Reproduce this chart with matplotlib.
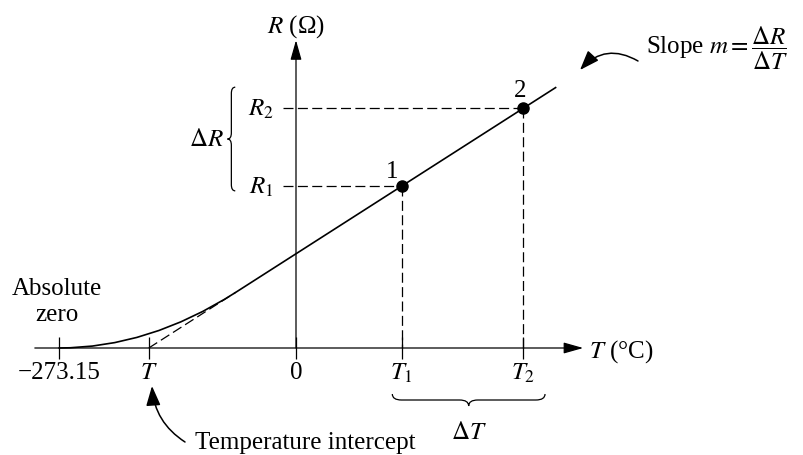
import numpy as np
import matplotlib.pyplot as plt
from matplotlib.path import Path
from matplotlib.patches import PathPatch

plt.rcParams['font.family'] = ['Liberation Serif', 'DejaVu Serif']
plt.rcParams['mathtext.fontset'] = 'stix'

# temperatures in deg C, resistances in ohm
T_ABS = -273.15
T_pts = [122, 262]        # T1, T2
R_pts = [100, 148]        # R1, R2
T_TANGENT = -70           # real curve joins the straight line here
T_END = 300               # end of the straight line
T_AXIS = (-301, 331)      # extent of the temperature axis
R_AXIS_TOP = 190          # tip of the resistance axis

tick_labels = ['\u2212273.15', '$T$', '0', '$T_1$', '$T_2$']
point_labels = ['1', '2']
R_labels = ['$R_1$', '$R_2$']

W, H = 804, 456
FS = 18
LW = 0.9

# straight part through the two measured points
slope = (R_pts[1] - R_pts[0]) / (T_pts[1] - T_pts[0])
T_int = T_pts[0] - R_pts[0] / slope
R_tan = slope * (T_TANGENT - T_int)
T_line = np.array([T_TANGENT, T_END])
R_line = slope * (T_line - T_int)

fig = plt.figure(figsize=(W / 100, H / 100), dpi=100)
ax = fig.add_axes([0, 0, 1, 1])
ax.set_xlim(-296 / 0.8677, (W - 296) / 0.8677)
ax.set_ylim((349 - H) / 1.62, 349 / 1.62)
ax.axis('off')

axis_arrow = dict(arrowstyle='-|>,head_length=0.6,head_width=0.17',
                  mutation_scale=20, lw=LW, color='k', shrinkA=0, shrinkB=0)
ax.annotate('', xy=(T_AXIS[1], 0), xytext=(T_AXIS[0], 0), arrowprops=axis_arrow)
ax.annotate('', xy=(0, R_AXIS_TOP), xytext=(0, 0), arrowprops=axis_arrow)

# low-temperature curve: quadratic bezier tangent to the axis and the line
curve = Path([(T_ABS, 0), (T_int, 0), (T_TANGENT, R_tan)],
             [Path.MOVETO, Path.CURVE3, Path.CURVE3])
ax.add_patch(PathPatch(curve, fill=False, lw=1.2, color='k', capstyle='round'))
ax.plot(T_line, R_line, color='k', lw=1.2, solid_capstyle='butt')
dash = (0, (8, 3.5))
ax.plot([T_int, T_TANGENT], [0, R_tan], color='k', lw=LW, ls=dash)

# guides to the axes
for T, R in zip(T_pts, R_pts):
    ax.plot([-15, T], [R, R], color='k', lw=LW, ls=dash)
    ax.plot([T, T], [R, 0], color='k', lw=LW, ls=dash)
ax.plot(T_pts, R_pts, 'o', ms=8, color='k')

for T, R, s, off in zip(T_pts, R_pts, point_labels, [(-10, 15), (-3, 18)]):
    ax.annotate(s, (T, R), xytext=off, textcoords='offset pixels',
                ha='center', va='center', fontsize=FS)
for R, s in zip(R_pts, R_labels):
    ax.annotate(s, (0, R), xytext=(-35, 0), textcoords='offset pixels',
                ha='center', va='center', fontsize=FS)

tick_T = [T_ABS, T_int, 0, T_pts[0], T_pts[1]]
ax.plot(tick_T, np.zeros(len(tick_T)), '|', ms=16, mew=LW, color='k')
for T, s in zip(tick_T, tick_labels):
    ax.annotate(s, (T, 0), xytext=(0, -13), textcoords='offset pixels',
                ha='center', va='top', fontsize=FS)


def brace(x0, x1, y0, depth, vertical=False):
    # curly brace from x0 to x1 at level y0, tip pushed out by depth
    xm = (x0 + x1) / 2
    r = (x1 - x0) * 0.06
    h = y0 + depth / 2
    pts = [(x0, y0), (x0, h), (x0 + r, h), (xm - r, h), (xm, h), (xm, y0 + depth),
           (xm, h), (xm + r, h), (x1 - r, h), (x1, h), (x1, y0)]
    codes = [Path.MOVETO, Path.CURVE3, Path.CURVE3, Path.LINETO, Path.CURVE3,
             Path.CURVE3, Path.CURVE3, Path.CURVE3, Path.LINETO, Path.CURVE3, Path.CURVE3]
    if vertical:
        pts = [(b, a) for a, b in pts]
    ax.add_patch(PathPatch(Path(pts, codes), fill=False, lw=LW, color='k'))
    return (xm, y0 + depth)


tip = brace(T_pts[0] - 11, T_pts[1] + 25, -28.4, -7.4)
ax.annotate(r'$\Delta T$', tip, xytext=(0, -26), textcoords='offset pixels',
            ha='center', va='center', fontsize=FS)
tip = brace(R_pts[0] - 3, R_pts[1] + 13, -70, -9, vertical=True)
ax.annotate(r'$\Delta R$', tip[::-1], xytext=(-21, 0), textcoords='offset pixels',
            ha='center', va='center', fontsize=FS)

# axis titles and notes, placed in figure pixels
ax.annotate(r'$R$ (Ω)', (296, H - 27), xycoords='figure pixels',
            ha='center', va='center', fontsize=FS)
ax.annotate(r'$T$ (°C)', (589, H - 352), xycoords='figure pixels',
            ha='left', va='center', fontsize=FS)
ax.annotate('Absolute\nzero', (57, H - 302), xycoords='figure pixels',
            ha='center', va='center', fontsize=FS, linespacing=1.25)

note_arrow = dict(arrowstyle='-|>,head_length=0.6,head_width=0.22',
                  mutation_scale=20, lw=1.1, color='k', shrinkA=0, shrinkB=0)
ax.annotate('', xy=(580, H - 71), xycoords='figure pixels',
            xytext=(638, H - 62), textcoords='figure pixels',
            arrowprops=dict(note_arrow, connectionstyle='arc3,rad=0.4'))
ax.annotate(r'Slope $m = \dfrac{\Delta R}{\Delta T}$', (646, H - 48),
            xycoords='figure pixels', ha='left', va='center', fontsize=FS)
ax.annotate('', xy=(152, H - 387), xycoords='figure pixels',
            xytext=(185, H - 443), textcoords='figure pixels',
            arrowprops=dict(note_arrow, connectionstyle='arc3,rad=-0.25'))
ax.annotate('Temperature intercept', (195, H - 443), xycoords='figure pixels',
            ha='left', va='center', fontsize=FS)

fig.savefig('out.png', dpi=100, facecolor='white')
